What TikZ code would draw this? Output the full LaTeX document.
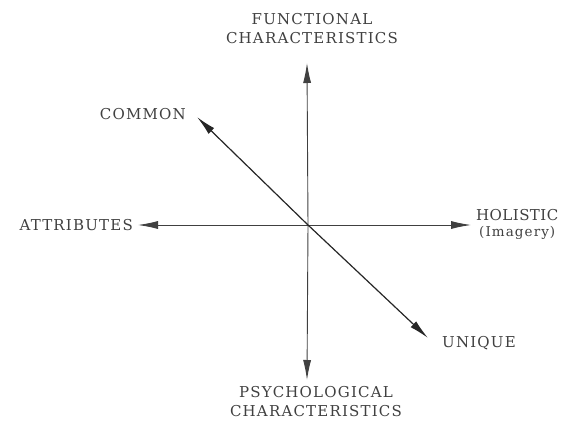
\documentclass[tikz,border=0pt]{standalone}
\usepackage{fontspec}
\setmainfont{DejaVu Serif}[LetterSpace=8]
\usetikzlibrary{arrows.meta}
\begin{document}
\begin{tikzpicture}[x=1pt,y=-1pt,
  axis/.style={draw=black!75, line width=0.9pt, -{Latex[length=20pt,width=8pt]}},
  lbl/.style={font=\fontsize{15}{19}\selectfont, text=black!75, inner sep=0pt, align=center}]
\useasboundingbox (0,0) rectangle (563,421);
\coordinate (o) at (308,225);
\coordinate (tTop) at (307,63);
\coordinate (tBot) at (307,380);
\coordinate (tLeft) at (138,225);
\coordinate (tRight) at (471,225);
\coordinate (tCom) at (197,117);
\coordinate (tUni) at (428,338);
\node[lbl] (fun) at (312,29) {FUNCTIONAL\\CHARACTERISTICS};
\node[lbl] (psy) at (316,402) {PSYCHOLOGICAL\\CHARACTERISTICS};
\node[lbl, anchor=east] (att) at (133,225) {ATTRIBUTES};
\node[lbl, anchor=west] (hol) at (476,224) {{\addfontfeature{LetterSpace=3}HOLISTIC}\\[-3pt]{\fontsize{13.5}{16}\selectfont(Imagery)}};
\node[lbl, anchor=east] (com) at (186,114) {COMMON};
\node[lbl, anchor=west] (uni) at (442,343) {UNIQUE};
\draw[axis] (o) -- (tTop);
\draw[axis] (o) -- (tBot);
\draw[axis] (o) -- (tLeft);
\draw[axis] (o) -- (tRight);
\draw[axis, line width=1.2pt, draw=black!85] (o) -- (tCom);
\draw[axis, line width=1.2pt, draw=black!85] (o) -- (tUni);
\end{tikzpicture}
\end{document}
